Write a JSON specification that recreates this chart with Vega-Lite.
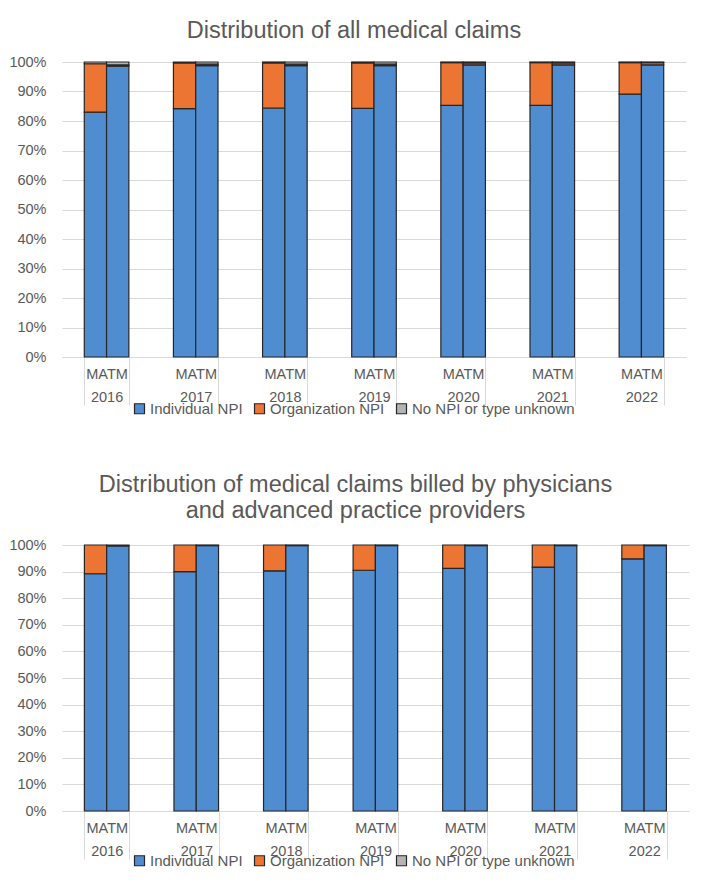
{
  "$schema": "https://vega.github.io/schema/vega-lite/v6.json",
  "background": "white",
  "padding": {"left": 8, "right": 8, "top": 18, "bottom": 4},
  "spacing": 55,
  "datasets": {
    "all": [
      {"year": "2016", "plan": "MA", "type": "Individual NPI", "pct": 83.0},
      {"year": "2016", "plan": "MA", "type": "Organization NPI", "pct": 16.4},
      {"year": "2016", "plan": "MA", "type": "No NPI or type unknown", "pct": 0.6},
      {"year": "2016", "plan": "TM", "type": "Individual NPI", "pct": 98.6},
      {"year": "2016", "plan": "TM", "type": "Organization NPI", "pct": 0.4},
      {"year": "2016", "plan": "TM", "type": "No NPI or type unknown", "pct": 1.0},
      {"year": "2017", "plan": "MA", "type": "Individual NPI", "pct": 84.2},
      {"year": "2017", "plan": "MA", "type": "Organization NPI", "pct": 15.5},
      {"year": "2017", "plan": "MA", "type": "No NPI or type unknown", "pct": 0.3},
      {"year": "2017", "plan": "TM", "type": "Individual NPI", "pct": 98.8},
      {"year": "2017", "plan": "TM", "type": "Organization NPI", "pct": 0.5},
      {"year": "2017", "plan": "TM", "type": "No NPI or type unknown", "pct": 0.7},
      {"year": "2018", "plan": "MA", "type": "Individual NPI", "pct": 84.4},
      {"year": "2018", "plan": "MA", "type": "Organization NPI", "pct": 15.3},
      {"year": "2018", "plan": "MA", "type": "No NPI or type unknown", "pct": 0.3},
      {"year": "2018", "plan": "TM", "type": "Individual NPI", "pct": 98.8},
      {"year": "2018", "plan": "TM", "type": "Organization NPI", "pct": 0.5},
      {"year": "2018", "plan": "TM", "type": "No NPI or type unknown", "pct": 0.7},
      {"year": "2019", "plan": "MA", "type": "Individual NPI", "pct": 84.3},
      {"year": "2019", "plan": "MA", "type": "Organization NPI", "pct": 15.4},
      {"year": "2019", "plan": "MA", "type": "No NPI or type unknown", "pct": 0.3},
      {"year": "2019", "plan": "TM", "type": "Individual NPI", "pct": 98.8},
      {"year": "2019", "plan": "TM", "type": "Organization NPI", "pct": 0.5},
      {"year": "2019", "plan": "TM", "type": "No NPI or type unknown", "pct": 0.7},
      {"year": "2020", "plan": "MA", "type": "Individual NPI", "pct": 85.3},
      {"year": "2020", "plan": "MA", "type": "Organization NPI", "pct": 14.5},
      {"year": "2020", "plan": "MA", "type": "No NPI or type unknown", "pct": 0.2},
      {"year": "2020", "plan": "TM", "type": "Individual NPI", "pct": 99.0},
      {"year": "2020", "plan": "TM", "type": "Organization NPI", "pct": 0.7},
      {"year": "2020", "plan": "TM", "type": "No NPI or type unknown", "pct": 0.3},
      {"year": "2021", "plan": "MA", "type": "Individual NPI", "pct": 85.3},
      {"year": "2021", "plan": "MA", "type": "Organization NPI", "pct": 14.5},
      {"year": "2021", "plan": "MA", "type": "No NPI or type unknown", "pct": 0.2},
      {"year": "2021", "plan": "TM", "type": "Individual NPI", "pct": 99.0},
      {"year": "2021", "plan": "TM", "type": "Organization NPI", "pct": 0.7},
      {"year": "2021", "plan": "TM", "type": "No NPI or type unknown", "pct": 0.3},
      {"year": "2022", "plan": "MA", "type": "Individual NPI", "pct": 89.1},
      {"year": "2022", "plan": "MA", "type": "Organization NPI", "pct": 10.7},
      {"year": "2022", "plan": "MA", "type": "No NPI or type unknown", "pct": 0.2},
      {"year": "2022", "plan": "TM", "type": "Individual NPI", "pct": 99.0},
      {"year": "2022", "plan": "TM", "type": "Organization NPI", "pct": 0.8},
      {"year": "2022", "plan": "TM", "type": "No NPI or type unknown", "pct": 0.2}
    ],
    "physicians": [
      {"year": "2016", "plan": "MA", "type": "Individual NPI", "pct": 89.2},
      {"year": "2016", "plan": "MA", "type": "Organization NPI", "pct": 10.8},
      {"year": "2016", "plan": "TM", "type": "Individual NPI", "pct": 99.7},
      {"year": "2016", "plan": "TM", "type": "Organization NPI", "pct": 0.3},
      {"year": "2017", "plan": "MA", "type": "Individual NPI", "pct": 90.0},
      {"year": "2017", "plan": "MA", "type": "Organization NPI", "pct": 10.0},
      {"year": "2017", "plan": "TM", "type": "Individual NPI", "pct": 99.8},
      {"year": "2017", "plan": "TM", "type": "Organization NPI", "pct": 0.2},
      {"year": "2018", "plan": "MA", "type": "Individual NPI", "pct": 90.3},
      {"year": "2018", "plan": "MA", "type": "Organization NPI", "pct": 9.7},
      {"year": "2018", "plan": "TM", "type": "Individual NPI", "pct": 99.8},
      {"year": "2018", "plan": "TM", "type": "Organization NPI", "pct": 0.2},
      {"year": "2019", "plan": "MA", "type": "Individual NPI", "pct": 90.5},
      {"year": "2019", "plan": "MA", "type": "Organization NPI", "pct": 9.5},
      {"year": "2019", "plan": "TM", "type": "Individual NPI", "pct": 99.8},
      {"year": "2019", "plan": "TM", "type": "Organization NPI", "pct": 0.2},
      {"year": "2020", "plan": "MA", "type": "Individual NPI", "pct": 91.2},
      {"year": "2020", "plan": "MA", "type": "Organization NPI", "pct": 8.8},
      {"year": "2020", "plan": "TM", "type": "Individual NPI", "pct": 99.8},
      {"year": "2020", "plan": "TM", "type": "Organization NPI", "pct": 0.2},
      {"year": "2021", "plan": "MA", "type": "Individual NPI", "pct": 91.7},
      {"year": "2021", "plan": "MA", "type": "Organization NPI", "pct": 8.3},
      {"year": "2021", "plan": "TM", "type": "Individual NPI", "pct": 99.8},
      {"year": "2021", "plan": "TM", "type": "Organization NPI", "pct": 0.2},
      {"year": "2022", "plan": "MA", "type": "Individual NPI", "pct": 94.8},
      {"year": "2022", "plan": "MA", "type": "Organization NPI", "pct": 5.2},
      {"year": "2022", "plan": "TM", "type": "Individual NPI", "pct": 99.8},
      {"year": "2022", "plan": "TM", "type": "Organization NPI", "pct": 0.2}
    ]
  },
  "vconcat": [
    {
      "data": {"name": "all"},
      "title": {"text": "Distribution of all medical claims", "offset": 12, "dx": -20},
      "width": 624,
      "height": 295,
      "transform": [
        {"calculate": "indexof(['Individual NPI', 'Organization NPI', 'No NPI or type unknown'], datum.type)", "as": "stackOrder"}
      ],
      "mark": {"type": "bar", "stroke": "#262626", "strokeWidth": 1.2},
      "encoding": {
        "x": {"field": "year", "type": "nominal", "title": null,
              "scale": {"paddingInner": 0.5, "paddingOuter": 0.25}},
        "xOffset": {"field": "plan", "type": "nominal", "scale": {"paddingInner": 0, "paddingOuter": 0}},
        "y": {"field": "pct", "type": "quantitative", "stack": "zero", "title": null,
              "scale": {"domain": [0, 100]},
              "axis": {"values": [0, 10, 20, 30, 40, 50, 60, 70, 80, 90, 100]}},
        "color": {"field": "type", "type": "nominal", "title": null,
                  "scale": {"domain": ["Individual NPI", "Organization NPI", "No NPI or type unknown"],
                            "range": ["#4f8dd0", "#ec7533", "#b4b4b4"]},
                  "legend": {"orient": "none", "legendX": 70, "legendY": 339}},
        "order": {"field": "stackOrder", "type": "quantitative"}
      }
    },
    {
      "data": {"name": "physicians"},
      "title": {"text": ["Distribution of medical claims billed by physicians", "and advanced practice providers"], "offset": 15, "dx": -20},
      "width": 627,
      "height": 266,
      "transform": [
        {"calculate": "indexof(['Individual NPI', 'Organization NPI', 'No NPI or type unknown'], datum.type)", "as": "stackOrder"}
      ],
      "mark": {"type": "bar", "stroke": "#262626", "strokeWidth": 1.2},
      "encoding": {
        "x": {"field": "year", "type": "nominal", "title": null,
              "scale": {"paddingInner": 0.5, "paddingOuter": 0.25}},
        "xOffset": {"field": "plan", "type": "nominal", "scale": {"paddingInner": 0, "paddingOuter": 0}},
        "y": {"field": "pct", "type": "quantitative", "stack": "zero", "title": null,
              "scale": {"domain": [0, 100]},
              "axis": {"values": [0, 10, 20, 30, 40, 50, 60, 70, 80, 90, 100]}},
        "color": {"field": "type", "type": "nominal", "title": null,
                  "scale": {"domain": ["Individual NPI", "Organization NPI", "No NPI or type unknown"],
                            "range": ["#4f8dd0", "#ec7533", "#b4b4b4"]},
                  "legend": {"orient": "none", "legendX": 70, "legendY": 308}},
        "order": {"field": "stackOrder", "type": "quantitative"}
      }
    }
  ],
  "resolve": {"legend": {"color": "independent"}, "scale": {"color": "shared"}},
  "config": {
    "font": "Liberation Sans",
    "view": {"stroke": null},
    "title": {"fontSize": 23.5, "fontWeight": "normal", "color": "#595959", "lineHeight": 26, "anchor": "middle"},
    "axisX": {
      "labelAngle": 0,
      "labelExpr": "length(datum.label) > 0 ? ['MATM', datum.label] : ''",
      "labelFontSize": 14.5,
      "labelLineHeight": 23,
      "labelColor": "#595959",
      "labelPadding": -38,
      "labelFlush": false,
      "labelOverlap": false,
      "labelBaseline": "top",
      "domainColor": "#d9d9d9",
      "tickColor": "#d9d9d9",
      "tickSize": 48,
      "tickBand": "extent",
      "grid": false
    },
    "axisY": {
      "labelFontSize": 14.5,
      "labelColor": "#595959",
      "labelPadding": 16,
      "labelExpr": "datum.value + '%'",
      "domain": false,
      "ticks": false,
      "grid": true,
      "gridColor": "#d9d9d9"
    },
    "legend": {
      "direction": "horizontal",
      "symbolType": "square",
      "symbolSize": 100,
      "symbolStrokeColor": "#262626",
      "symbolStrokeWidth": 1.2,
      "labelFontSize": 15,
      "labelColor": "#595959",
      "labelOffset": 3,
      "labelLimit": 300,
      "columnPadding": 9
    }
  }
}
